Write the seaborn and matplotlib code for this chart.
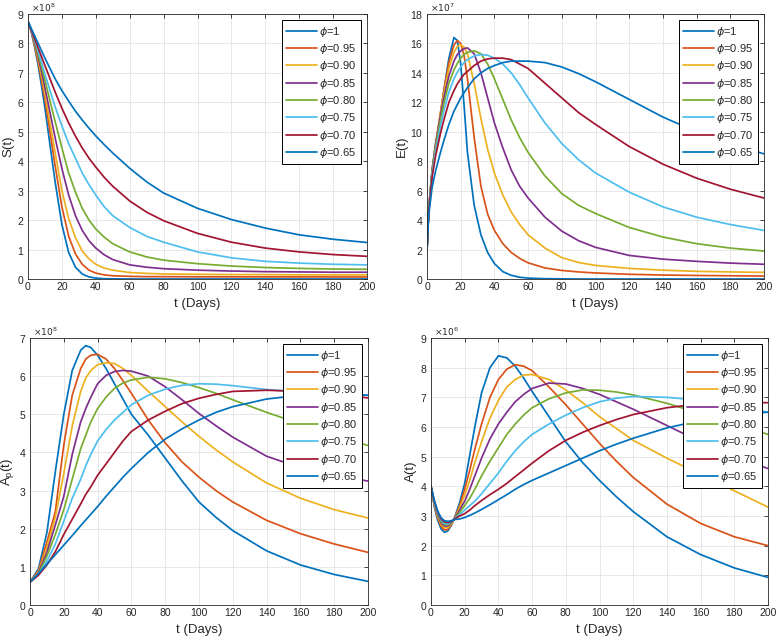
import matplotlib
matplotlib.use("Agg")
import numpy as np
import pandas as pd
import matplotlib.pyplot as plt
import seaborn as sns
from matplotlib.ticker import MultipleLocator

# legend labels and MATLAB default line colours
phi_labels = ["1", "0.95", "0.90", "0.85", "0.80", "0.75", "0.70", "0.65"]
colors = ["#0072BD", "#D95319", "#EDB120", "#7E2F8E",
          "#77AC30", "#4DBEEE", "#A2142F", "#0072BD"]

# ---- S(t), x1e8 ----
t_S = [0, 2, 4, 6, 8, 10, 13, 16, 20, 24, 28, 32, 36, 40, 45, 50,
       60, 70, 80, 100, 120, 140, 160, 180, 200]
S_vals = [
    [8.75, 8.38, 7.85, 7.25, 6.55, 5.8, 4.55, 3.3, 1.85, 0.9, 0.4, 0.17, 0.07, 0.03, 0.01, 0.005, 0, 0, 0, 0, 0, 0, 0, 0, 0],
    [8.75, 8.4, 7.9, 7.35, 6.75, 6.1, 5.0, 3.85, 2.45, 1.45, 0.85, 0.5, 0.3, 0.2, 0.14, 0.11, 0.09, 0.08, 0.08, 0.075, 0.073, 0.072, 0.071, 0.07, 0.07],
    [8.75, 8.41, 7.95, 7.45, 6.9, 6.3, 5.3, 4.3, 3.0, 2.05, 1.4, 0.95, 0.68, 0.5, 0.37, 0.3, 0.22, 0.19, 0.17, 0.16, 0.15, 0.15, 0.14, 0.14, 0.14],
    [8.75, 8.42, 8.0, 7.55, 7.05, 6.5, 5.65, 4.8, 3.75, 2.85, 2.15, 1.65, 1.3, 1.05, 0.82, 0.66, 0.48, 0.4, 0.35, 0.3, 0.27, 0.25, 0.24, 0.23, 0.23],
    [8.75, 8.43, 8.05, 7.65, 7.2, 6.75, 6.05, 5.35, 4.45, 3.6, 2.95, 2.4, 2.0, 1.7, 1.42, 1.2, 0.92, 0.75, 0.64, 0.52, 0.44, 0.39, 0.36, 0.34, 0.33],
    [8.75, 8.44, 8.1, 7.75, 7.35, 6.95, 6.4, 5.85, 5.2, 4.6, 4.1, 3.6, 3.2, 2.85, 2.45, 2.15, 1.75, 1.45, 1.25, 0.92, 0.72, 0.6, 0.54, 0.5, 0.48],
    [8.75, 8.45, 8.15, 7.85, 7.55, 7.25, 6.8, 6.35, 5.8, 5.3, 4.85, 4.45, 4.1, 3.8, 3.45, 3.15, 2.65, 2.27, 1.98, 1.55, 1.25, 1.05, 0.92, 0.83, 0.77],
    [8.75, 8.5, 8.25, 8.0, 7.75, 7.5, 7.15, 6.8, 6.4, 6.04, 5.7, 5.4, 5.12, 4.86, 4.56, 4.28, 3.76, 3.3, 2.92, 2.4, 2.02, 1.73, 1.5, 1.35, 1.24],
]

# ---- E(t), x1e7 ----
t_E = [0, 1, 3, 5, 8, 10, 13, 16, 18, 20, 22, 24, 28, 32, 36, 40, 45, 50,
       55, 60, 70, 80, 90, 100, 120, 140, 160, 180, 200]
E_vals = [
    [2, 4.6, 7.2, 8.8, 11.2, 12.8, 15.0, 16.4, 16.2, 14.6, 11.8, 8.6, 5.0, 3.0, 1.8, 1.05, 0.5, 0.25, 0.12, 0.06, 0.02, 0.01, 0, 0, 0, 0, 0, 0, 0],
    [2, 4.6, 7.3, 9.0, 11.3, 12.8, 14.7, 15.9, 16.2, 16.0, 15.2, 13.6, 9.6, 6.3, 4.4, 3.3, 2.4, 1.8, 1.4, 1.1, 0.75, 0.58, 0.48, 0.41, 0.32, 0.27, 0.24, 0.22, 0.2],
    [2, 4.7, 7.4, 9.1, 11.3, 12.6, 14.3, 15.4, 15.8, 15.9, 15.75, 15.3, 13.3, 10.9, 8.8, 7.2, 5.7, 4.55, 3.7, 3.0, 2.1, 1.45, 1.12, 0.92, 0.72, 0.6, 0.52, 0.48, 0.45],
    [2, 4.7, 7.4, 9.1, 11.1, 12.3, 13.8, 14.8, 15.25, 15.5, 15.65, 15.7, 15.3, 14.0, 12.3, 10.6, 8.9, 7.4, 6.3, 5.5, 4.2, 3.25, 2.6, 2.15, 1.6, 1.35, 1.2, 1.08, 1.0],
    [2, 4.7, 7.3, 8.9, 10.8, 11.9, 13.3, 14.2, 14.65, 15.0, 15.25, 15.4, 15.5, 15.3, 14.6, 13.6, 12.2, 10.8, 9.6, 8.6, 7.0, 5.8, 5.0, 4.45, 3.5, 2.85, 2.4, 2.1, 1.9],
    [2, 4.6, 7.1, 8.6, 10.4, 11.4, 12.7, 13.6, 14.05, 14.4, 14.7, 14.9, 15.15, 15.25, 15.2, 15.0, 14.6, 14.0, 13.2, 12.3, 10.6, 9.2, 8.1, 7.2, 5.9, 4.9, 4.2, 3.7, 3.3],
    [2, 4.5, 6.9, 8.3, 9.9, 10.8, 12.0, 12.8, 13.25, 13.6, 13.9, 14.1, 14.5, 14.8, 14.95, 15.0, 15.0, 14.9, 14.6, 14.3, 13.3, 12.3, 11.3, 10.5, 9.0, 7.8, 6.85, 6.1, 5.5],
    [2, 4.3, 6.2, 7.3, 8.6, 9.4, 10.5, 11.4, 11.85, 12.3, 12.65, 13.0, 13.6, 14.0, 14.3, 14.5, 14.7, 14.8, 14.8, 14.8, 14.7, 14.4, 13.95, 13.4, 12.2, 11.0, 10.0, 9.2, 8.5],
]

# ---- Ap(t), x1e8 ----
t_Ap = [0, 5, 10, 15, 20, 25, 30, 33, 36, 40, 45, 50, 55, 60, 70, 80,
        90, 100, 110, 120, 140, 160, 180, 200]
Ap_vals = [
    [0.6, 0.95, 1.9, 3.5, 5.0, 6.15, 6.68, 6.8, 6.75, 6.55, 6.2, 5.8, 5.4, 5.0, 4.45, 3.85, 3.25, 2.7, 2.3, 1.95, 1.42, 1.05, 0.8, 0.62],
    [0.6, 0.9, 1.65, 2.45, 4.2, 5.5, 6.2, 6.45, 6.55, 6.57, 6.45, 6.2, 5.88, 5.55, 4.85, 4.25, 3.75, 3.35, 3.0, 2.7, 2.22, 1.87, 1.6, 1.38],
    [0.6, 0.88, 1.5, 2.3, 3.45, 4.7, 5.6, 5.95, 6.15, 6.3, 6.35, 6.33, 6.2, 6.02, 5.6, 5.2, 4.8, 4.42, 4.07, 3.75, 3.2, 2.8, 2.5, 2.28],
    [0.6, 0.85, 1.38, 2.1, 2.85, 3.95, 4.8, 5.15, 5.45, 5.8, 6.02, 6.12, 6.15, 6.13, 6.0, 5.72, 5.38, 5.02, 4.7, 4.4, 3.9, 3.6, 3.4, 3.25],
    [0.6, 0.82, 1.28, 1.85, 2.5, 3.3, 4.1, 4.45, 4.8, 5.15, 5.45, 5.68, 5.82, 5.9, 5.97, 5.93, 5.83, 5.7, 5.55, 5.38, 5.05, 4.75, 4.45, 4.18],
    [0.6, 0.8, 1.15, 1.6, 2.2, 2.8, 3.3, 3.65, 3.95, 4.3, 4.6, 4.85, 5.05, 5.25, 5.5, 5.66, 5.76, 5.8, 5.79, 5.75, 5.65, 5.58, 5.53, 5.5],
    [0.6, 0.78, 1.05, 1.4, 1.85, 2.25, 2.65, 2.9, 3.1, 3.4, 3.7, 4.0, 4.3, 4.55, 4.85, 5.08, 5.28, 5.42, 5.52, 5.6, 5.63, 5.6, 5.52, 5.43],
    [0.6, 0.82, 1.07, 1.32, 1.57, 1.82, 2.08, 2.23, 2.38, 2.58, 2.85, 3.1, 3.35, 3.58, 4.0, 4.35, 4.62, 4.85, 5.05, 5.2, 5.4, 5.5, 5.52, 5.5],
]

# ---- A(t), x1e6 ----
t_A = [0, 2, 4, 6, 8, 10, 12, 14, 17, 20, 23, 26, 30, 35, 40, 45, 50,
       55, 60, 70, 80, 90, 100, 110, 120, 140, 160, 180, 200]
A_vals = [
    [4.0, 3.3, 2.85, 2.56, 2.45, 2.5, 2.68, 2.95, 3.45, 4.1, 5.05, 6.0, 7.15, 8.0, 8.4, 8.33, 8.05, 7.65, 7.2, 6.35, 5.5, 4.8, 4.2, 3.65, 3.15, 2.3, 1.7, 1.25, 0.93],
    [4.0, 3.35, 2.92, 2.65, 2.53, 2.55, 2.7, 2.93, 3.35, 3.9, 4.55, 5.25, 6.1, 7.0, 7.6, 7.95, 8.1, 8.05, 7.9, 7.35, 6.75, 6.1, 5.45, 4.85, 4.3, 3.4, 2.75, 2.3, 2.0],
    [4.0, 3.38, 2.97, 2.72, 2.6, 2.61, 2.72, 2.92, 3.28, 3.7, 4.2, 4.8, 5.5, 6.3, 6.9, 7.35, 7.6, 7.75, 7.77, 7.6, 7.25, 6.82, 6.35, 5.95, 5.55, 4.95, 4.4, 3.85, 3.3],
    [4.0, 3.42, 3.02, 2.77, 2.66, 2.66, 2.75, 2.92, 3.2, 3.5, 3.9, 4.35, 4.95, 5.6, 6.1, 6.5, 6.85, 7.1, 7.3, 7.48, 7.45, 7.3, 7.1, 6.85, 6.6, 6.05, 5.5, 5.0, 4.6],
    [4.0, 3.45, 3.06, 2.82, 2.71, 2.7, 2.77, 2.91, 3.12, 3.35, 3.6, 3.9, 4.35, 4.85, 5.3, 5.75, 6.1, 6.4, 6.65, 6.95, 7.15, 7.25, 7.24, 7.18, 7.08, 6.8, 6.45, 6.1, 5.75],
    [4.0, 3.48, 3.1, 2.86, 2.75, 2.74, 2.79, 2.9, 3.05, 3.2, 3.35, 3.5, 3.75, 4.1, 4.45, 4.85, 5.2, 5.5, 5.75, 6.1, 6.4, 6.65, 6.85, 6.97, 7.03, 7.0, 6.9, 6.72, 6.5],
    [4.0, 3.5, 3.13, 2.9, 2.8, 2.78, 2.81, 2.9, 3.0, 3.08, 3.2, 3.35, 3.52, 3.72, 3.9, 4.1, 4.33, 4.55, 4.78, 5.2, 5.55, 5.82, 6.05, 6.25, 6.42, 6.65, 6.78, 6.82, 6.82],
    [4.0, 3.52, 3.16, 2.94, 2.84, 2.82, 2.84, 2.88, 2.9, 2.95, 3.02, 3.1, 3.22, 3.38, 3.55, 3.72, 3.9, 4.06, 4.2, 4.45, 4.7, 4.95, 5.2, 5.42, 5.62, 5.97, 6.22, 6.4, 6.5],
]

sns.set_style("whitegrid")
plt.rcParams["font.family"] = ["Liberation Sans", "DejaVu Sans"]
plt.rcParams["mathtext.fontset"] = "dejavusans"

fig = plt.figure(figsize=(7.76, 6.39), dpi=100)

# panel boxes in pixels: left, top, right, bottom
boxes = [(28, 14, 367, 279), (427, 14, 764, 279),
         (30, 338, 368, 605), (431, 338, 768, 605)]
panels = [
    (t_S, S_vals, 1e8, 9, 1, "S(t)", 8),
    (t_E, E_vals, 1e7, 18, 2, "E(t)", 7),
    (t_Ap, Ap_vals, 1e8, 7, 1, r"A$_\mathregular{p}$(t)", 8),
    (t_A, A_vals, 1e6, 9, 1, "A(t)", 6),
]

for (l, t, r, b), (tt, vals, scale, ymax, ystep, ylab, expo) in zip(boxes, panels):
    ax = fig.add_axes([l / 776, 1 - b / 639, (r - l) / 776, (b - t) / 639])
    for lab, col, v in zip(phi_labels, colors, vals):
        df = pd.DataFrame({"t": tt, "v": np.array(v) * scale})
        sns.lineplot(data=df, x="t", y="v", ax=ax, color=col, linewidth=1.25,
                     label=r"$\phi$=" + lab)
    ax.set_xlim(0, 200)
    ax.set_ylim(0, ymax * scale)
    ax.xaxis.set_major_locator(MultipleLocator(20))
    ax.yaxis.set_major_locator(MultipleLocator(ystep * scale))
    ax.ticklabel_format(axis="y", style="sci", scilimits=(expo, expo), useMathText=True)
    ax.yaxis.get_offset_text().set_visible(False)
    ax.text(0.01, 1.0, r"$\times10^{%d}$" % expo, transform=ax.transAxes,
            ha="left", va="bottom", fontsize=6.5, color="#262626")
    ax.set_xlabel("t (Days)", fontsize=9.5, color="#262626", labelpad=4)
    ax.set_ylabel(ylab, fontsize=9.5, color="#262626", labelpad=2)
    ax.grid(True, color="#e3e3e3", linewidth=0.6)
    ax.tick_params(direction="in", top=True, right=True, length=3, width=0.6,
                   labelsize=7.5, colors="#262626", pad=2.5)
    for sp in ax.spines.values():
        sp.set_color("#262626")
        sp.set_linewidth(0.6)
    leg = ax.legend(loc="upper right", fontsize=8, frameon=True, fancybox=False,
                    framealpha=1, edgecolor="black", borderaxespad=0.55,
                    labelspacing=0.3, borderpad=0.4, handlelength=2.8,
                    handletextpad=0.2)
    leg.get_frame().set_linewidth(0.7)

fig.savefig("out.png", dpi=100)
